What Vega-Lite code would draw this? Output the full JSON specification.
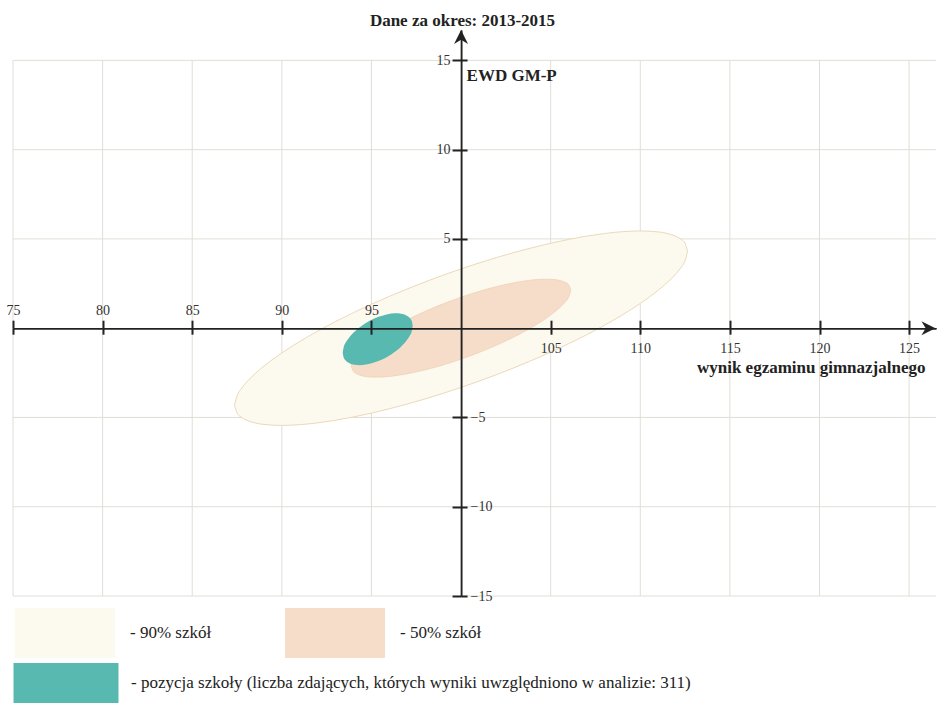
{
  "$schema": "https://vega.github.io/schema/vega-lite/v6.json",
  "width": 923,
  "height": 566,
  "autosize": {"type": "none"},
  "padding": {"left": 13, "top": 30, "right": 1, "bottom": 108},
  "background": "white",
  "config": {"view": {"stroke": null}, "font": "Liberation Serif", "legend": {"labelFont": "Liberation Serif"}},
  "title": {"text": "Dane za okres: 2013-2015", "font": "Liberation Serif", "fontSize": 17, "fontWeight": "bold", "color": "#222", "anchor": "middle", "dx": -12, "dy": 19, "offset": 6, "baseline": "alphabetic"},
  "datasets": {
    "gridv": [
      {"x": 75, "y": -15, "y2": 15}, {"x": 80, "y": -15, "y2": 15}, {"x": 85, "y": -15, "y2": 15},
      {"x": 90, "y": -15, "y2": 15}, {"x": 95, "y": -15, "y2": 15}, {"x": 105, "y": -15, "y2": 15},
      {"x": 110, "y": -15, "y2": 15}, {"x": 115, "y": -15, "y2": 15}, {"x": 120, "y": -15, "y2": 15},
      {"x": 125, "y": -15, "y2": 15}
    ],
    "gridh": [
      {"y": -15, "x": 75, "x2": 126.5}, {"y": -10, "x": 75, "x2": 126.5}, {"y": -5, "x": 75, "x2": 126.5},
      {"y": 5, "x": 75, "x2": 126.5}, {"y": 10, "x": 75, "x2": 126.5}, {"y": 15, "x": 75, "x2": 126.5}
    ],
    "ell": [
      {"series": "90% szkół", "x": 87.363, "lo": -4.317, "hi": -4.317},
      {"series": "90% szkół", "x": 87.5, "lo": -4.758, "hi": -3.783},
      {"series": "90% szkół", "x": 87.7, "lo": -4.964, "hi": -3.441},
      {"series": "90% szkół", "x": 88, "lo": -5.14, "hi": -3.059},
      {"series": "90% szkół", "x": 88.5, "lo": -5.305, "hi": -2.553},
      {"series": "90% szkół", "x": 89, "lo": -5.392, "hi": -2.124},
      {"series": "90% szkół", "x": 90, "lo": -5.446, "hi": -1.387},
      {"series": "90% szkół", "x": 91, "lo": -5.405, "hi": -0.745},
      {"series": "90% szkół", "x": 92, "lo": -5.302, "hi": -0.164},
      {"series": "90% szkół", "x": 94, "lo": -4.971, "hi": 0.871},
      {"series": "90% szkół", "x": 96, "lo": -4.515, "hi": 1.782},
      {"series": "90% szkół", "x": 98, "lo": -3.961, "hi": 2.594},
      {"series": "90% szkół", "x": 100, "lo": -3.319, "hi": 3.319},
      {"series": "90% szkół", "x": 102, "lo": -2.594, "hi": 3.961},
      {"series": "90% szkół", "x": 104, "lo": -1.782, "hi": 4.515},
      {"series": "90% szkół", "x": 106, "lo": -0.871, "hi": 4.971},
      {"series": "90% szkół", "x": 108, "lo": 0.164, "hi": 5.302},
      {"series": "90% szkół", "x": 109, "lo": 0.745, "hi": 5.405},
      {"series": "90% szkół", "x": 110, "lo": 1.387, "hi": 5.446},
      {"series": "90% szkół", "x": 111, "lo": 2.124, "hi": 5.392},
      {"series": "90% szkół", "x": 111.5, "lo": 2.553, "hi": 5.305},
      {"series": "90% szkół", "x": 112, "lo": 3.059, "hi": 5.14},
      {"series": "90% szkół", "x": 112.3, "lo": 3.441, "hi": 4.964},
      {"series": "90% szkół", "x": 112.5, "lo": 3.783, "hi": 4.758},
      {"series": "90% szkół", "x": 112.637, "lo": 4.317, "hi": 4.317},

      {"series": "50% szkół", "x": 93.876, "lo": -2.128, "hi": -2.128},
      {"series": "50% szkół", "x": 94, "lo": -2.432, "hi": -1.737},
      {"series": "50% szkół", "x": 94.2, "lo": -2.571, "hi": -1.459},
      {"series": "50% szkół", "x": 94.5, "lo": -2.673, "hi": -1.149},
      {"series": "50% szkół", "x": 95, "lo": -2.738, "hi": -0.736},
      {"series": "50% szkół", "x": 95.5, "lo": -2.739, "hi": -0.388},
      {"series": "50% szkół", "x": 96, "lo": -2.702, "hi": -0.078},
      {"series": "50% szkół", "x": 97, "lo": -2.553, "hi": 0.468},
      {"series": "50% szkół", "x": 98, "lo": -2.332, "hi": 0.943},
      {"series": "50% szkół", "x": 99, "lo": -2.057, "hi": 1.362},
      {"series": "50% szkół", "x": 100, "lo": -1.733, "hi": 1.733},
      {"series": "50% szkół", "x": 101, "lo": -1.362, "hi": 2.057},
      {"series": "50% szkół", "x": 102, "lo": -0.943, "hi": 2.332},
      {"series": "50% szkół", "x": 103, "lo": -0.468, "hi": 2.553},
      {"series": "50% szkół", "x": 104, "lo": 0.078, "hi": 2.702},
      {"series": "50% szkół", "x": 104.5, "lo": 0.388, "hi": 2.739},
      {"series": "50% szkół", "x": 105, "lo": 0.736, "hi": 2.738},
      {"series": "50% szkół", "x": 105.5, "lo": 1.149, "hi": 2.673},
      {"series": "50% szkół", "x": 105.8, "lo": 1.459, "hi": 2.571},
      {"series": "50% szkół", "x": 106, "lo": 1.737, "hi": 2.432},
      {"series": "50% szkół", "x": 106.124, "lo": 2.128, "hi": 2.128},

      {"series": "pozycja szkoły (liczba zdających, których wyniki uwzględniono w analizie: 311)", "x": 93.397, "lo": -1.377, "hi": -1.377},
      {"series": "pozycja szkoły (liczba zdających, których wyniki uwzględniono w analizie: 311)", "x": 93.45, "lo": -1.642, "hi": -1.07},
      {"series": "pozycja szkoły (liczba zdających, których wyniki uwzględniono w analizie: 311)", "x": 93.55, "lo": -1.798, "hi": -0.837},
      {"series": "pozycja szkoły (liczba zdających, których wyniki uwzględniono w analizie: 311)", "x": 93.75, "lo": -1.95, "hi": -0.53},
      {"series": "pozycja szkoły (liczba zdających, których wyniki uwzględniono w analizie: 311)", "x": 94.05, "lo": -2.048, "hi": -0.199},
      {"series": "pozycja szkoły (liczba zdających, których wyniki uwzględniono w analizie: 311)", "x": 94.35, "lo": -2.072, "hi": 0.057},
      {"series": "pozycja szkoły (liczba zdających, których wyniki uwzględniono w analizie: 311)", "x": 94.85, "lo": -2.011, "hi": 0.384},
      {"series": "pozycja szkoły (liczba zdających, których wyniki uwzględniono w analizie: 311)", "x": 95.35, "lo": -1.859, "hi": 0.619},
      {"series": "pozycja szkoły (liczba zdających, których wyniki uwzględniono w analizie: 311)", "x": 95.85, "lo": -1.624, "hi": 0.771},
      {"series": "pozycja szkoły (liczba zdających, których wyniki uwzględniono w analizie: 311)", "x": 96.35, "lo": -1.297, "hi": 0.832},
      {"series": "pozycja szkoły (liczba zdających, których wyniki uwzględniono w analizie: 311)", "x": 96.65, "lo": -1.041, "hi": 0.808},
      {"series": "pozycja szkoły (liczba zdających, których wyniki uwzględniono w analizie: 311)", "x": 96.95, "lo": -0.71, "hi": 0.71},
      {"series": "pozycja szkoły (liczba zdających, których wyniki uwzględniono w analizie: 311)", "x": 97.15, "lo": -0.403, "hi": 0.558},
      {"series": "pozycja szkoły (liczba zdających, których wyniki uwzględniono w analizie: 311)", "x": 97.25, "lo": -0.17, "hi": 0.402},
      {"series": "pozycja szkoły (liczba zdających, których wyniki uwzględniono w analizie: 311)", "x": 97.303, "lo": 0.137, "hi": 0.137}
    ],
    "arrows": [
      {"x": 126.08, "y": 0, "dir": "right"},
      {"x": 100, "y": 16.31, "dir": "up"}
    ]
  },
  "resolve": {"axis": {"x": "independent", "y": "independent"}, "scale": {"color": "independent"}, "legend": {"color": "independent"}},
  "layer": [
    {
      "data": {"name": "gridv"},
      "mark": {"type": "rule", "color": "#e0ded6", "strokeWidth": 1},
      "encoding": {
        "x": {"field": "x", "type": "quantitative",
          "scale": {"domain": [75, 126.5], "nice": false, "zero": false},
          "axis": {"orient": "top", "offset": -298.19, "values": [75, 80, 85, 90, 95, 105, 110, 115, 120, 125],
            "labelExpr": "datum.value < 100 ? datum.label : ''", "tickSize": 8, "labelPadding": 3,
            "labelFont": "Liberation Serif", "labelFontSize": 14, "labelColor": "#333", "labelFlush": false, "labelOverlap": false,
            "domainColor": "#222", "domainWidth": 1.5, "tickColor": "#222", "tickWidth": 2, "grid": false, "title": null, "zindex": 1}},
        "y": {"field": "y", "type": "quantitative",
          "scale": {"domain": [-15, 16.7], "nice": false, "zero": false},
          "axis": {"orient": "left", "offset": -448.06, "values": [-15, -10, -5, 5, 10, 15],
            "labelExpr": "datum.value > 0 ? datum.label : ''", "tickSize": 9, "labelPadding": 2,
            "labelFont": "Liberation Serif", "labelFontSize": 14, "labelColor": "#333", "labelFlush": false, "labelOverlap": false,
            "domainColor": "#222", "domainWidth": 1.5, "tickColor": "#222", "tickWidth": 2, "grid": false, "zindex": 1,
            "title": "EWD GM-P", "titleAngle": 0, "titleAlign": "left", "titleBaseline": "alphabetic", "titleX": 5, "titleY": 50,
            "titleFont": "Liberation Serif", "titleFontSize": 17, "titleFontWeight": "bold", "titleColor": "#222"}},
        "y2": {"field": "y2"}
      }
    },
    {
      "data": {"name": "gridh"},
      "mark": {"type": "rule", "color": "#e0ded6", "strokeWidth": 1},
      "encoding": {
        "y": {"field": "y", "type": "quantitative",
          "axis": {"orient": "right", "offset": -474.94, "values": [-15, -10, -5, 5, 10, 15],
            "labelExpr": "datum.value < 0 ? datum.label : ''", "tickSize": 6, "labelPadding": 3,
            "labelFont": "Liberation Serif", "labelFontSize": 14, "labelColor": "#333", "labelFlush": false, "labelOverlap": false,
            "domainColor": "#222", "domainWidth": 1.5, "tickColor": "#222", "tickWidth": 2, "grid": false, "title": null, "zindex": 1}},
        "x": {"field": "x", "type": "quantitative",
          "axis": {"orient": "bottom", "offset": -267.81, "values": [75, 80, 85, 90, 95, 105, 110, 115, 120, 125],
            "labelExpr": "datum.value > 100 ? datum.label : ''", "tickSize": 6, "labelPadding": 7,
            "labelFont": "Liberation Serif", "labelFontSize": 14, "labelColor": "#333", "labelFlush": false, "labelOverlap": false,
            "domainColor": "#222", "domainWidth": 1.5, "tickColor": "#222", "tickWidth": 2, "grid": false, "zindex": 1,
            "title": "wynik egzaminu gimnazjalnego", "titleAlign": "right", "titleBaseline": "alphabetic", "titleX": 912, "titleY": 44,
            "titleFont": "Liberation Serif", "titleFontSize": 17, "titleFontWeight": "bold", "titleColor": "#222"}},
        "x2": {"field": "x2"}
      }
    },
    {
      "data": {"name": "ell"},
      "transform": [{"filter": "datum.series === '90% szkół'"}],
      "mark": {"type": "area", "interpolate": "monotone", "stroke": "#ecd9b9", "strokeWidth": 1, "opacity": 1},
      "encoding": {
        "x": {"field": "x", "type": "quantitative", "axis": null},
        "y": {"field": "lo", "type": "quantitative", "axis": null},
        "y2": {"field": "hi"},
        "color": {"field": "series", "type": "nominal",
          "scale": {"domain": ["90% szkół"], "range": ["#fcf9ef"]},
          "legend": {"title": null, "orient": "none", "legendX": 27, "legendY": 578, "symbolType": "M-2,-1H2V1H-2Z",
            "symbolSize": 2500, "symbolStrokeWidth": 0, "symbolOpacity": 1, "padding": 0,
            "labelFont": "Liberation Serif", "labelFontSize": 17, "labelColor": "#222", "labelOffset": 40, "labelLimit": 900,
            "labelExpr": "'- ' + datum.label",
            "encode": {"labels": {"update": {"font": {"value": "Liberation Serif"}}}}}}
      }
    },
    {
      "data": {"name": "ell"},
      "transform": [{"filter": "datum.series === '50% szkół'"}],
      "mark": {"type": "area", "interpolate": "monotone", "stroke": "#f0d0b4", "strokeWidth": 0.8, "opacity": 1},
      "encoding": {
        "x": {"field": "x", "type": "quantitative", "axis": null},
        "y": {"field": "lo", "type": "quantitative", "axis": null},
        "y2": {"field": "hi"},
        "color": {"field": "series", "type": "nominal",
          "scale": {"domain": ["50% szkół"], "range": ["#f6ddc9"]},
          "legend": {"title": null, "orient": "none", "legendX": 297, "legendY": 578, "symbolType": "M-2,-1H2V1H-2Z",
            "symbolSize": 2500, "symbolStrokeWidth": 0, "symbolOpacity": 1, "padding": 0,
            "labelFont": "Liberation Serif", "labelFontSize": 17, "labelColor": "#222", "labelOffset": 40, "labelLimit": 900,
            "labelExpr": "'- ' + datum.label",
            "encode": {"labels": {"update": {"font": {"value": "Liberation Serif"}}}}}}
      }
    },
    {
      "data": {"name": "ell"},
      "transform": [{"filter": "datum.series !== '90% szkół' && datum.series !== '50% szkół'"}],
      "mark": {"type": "area", "interpolate": "monotone", "opacity": 1},
      "encoding": {
        "x": {"field": "x", "type": "quantitative", "axis": null},
        "y": {"field": "lo", "type": "quantitative", "axis": null},
        "y2": {"field": "hi"},
        "color": {"field": "series", "type": "nominal",
          "scale": {"domain": ["pozycja szkoły (liczba zdających, których wyniki uwzględniono w analizie: 311)"], "range": ["#58b9b0"]},
          "legend": {"title": null, "orient": "none", "legendX": 28, "legendY": 628, "symbolType": "M-2.1,-0.8H2.1V0.8H-2.1Z",
            "symbolSize": 2500, "symbolStrokeWidth": 0, "symbolOpacity": 1, "padding": 0,
            "labelFont": "Liberation Serif", "labelFontSize": 17, "labelColor": "#222", "labelOffset": 40, "labelLimit": 900,
            "labelExpr": "'- ' + datum.label",
            "encode": {"labels": {"update": {"font": {"value": "Liberation Serif"}}}}}}
      }
    },
    {
      "data": {"name": "arrows"},
      "mark": {"type": "point", "filled": true, "color": "#222", "opacity": 1, "size": 196},
      "encoding": {
        "x": {"field": "x", "type": "quantitative", "axis": null},
        "y": {"field": "y", "type": "quantitative", "axis": null},
        "shape": {"field": "dir", "type": "nominal", "legend": null,
          "scale": {"domain": ["right", "up"], "range": ["M1,0L-1,-1L-0.4,0L-1,1Z", "M0,-1L1,1L0,0.4L-1,1Z"]}}
      }
    }
  ]
}
